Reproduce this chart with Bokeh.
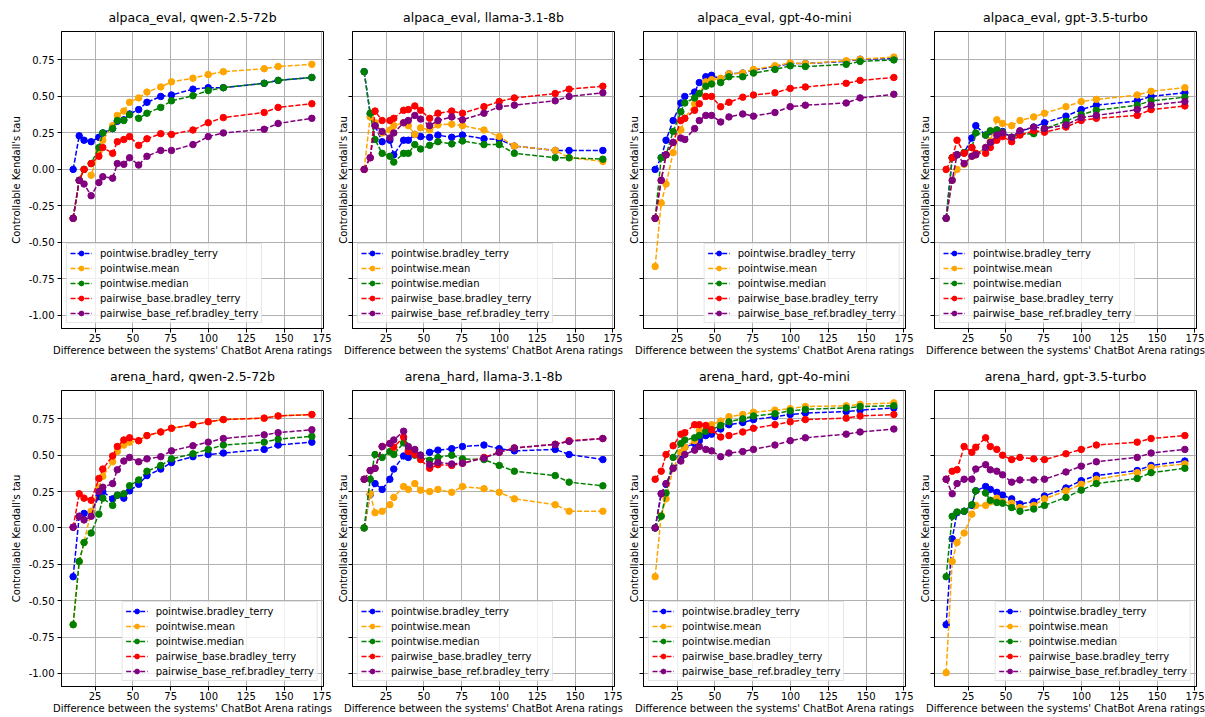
from bokeh.plotting import figure
from bokeh.layouts import column, row
from bokeh.models import Range1d, NumeralTickFormatter, CustomJSTickFormatter, FixedTicker
from bokeh.embed import file_html
from bokeh.resources import INLINE

# ---------------- data ----------------
X_DIFF = [10.5, 14.5, 17.7, 22.4, 27.5, 30.1, 36.6, 39.7, 44.0, 47.8,
          53.8, 59.3, 68.4, 75.5, 89.7, 99.8, 109.8, 136.8, 146.0, 168.3]

SERIES_NAMES = ["pointwise.bradley_terry", "pointwise.mean", "pointwise.median",
                "pairwise_base.bradley_terry", "pairwise_base_ref.bradley_terry"]
SERIES_COLORS = ["blue", "orange", "green", "red", "purple"]

X_TICKS = [0, 25, 50, 75, 100, 125, 150, 175]
Y_TICKS = [-1.0, -0.75, -0.5, -0.25, 0.0, 0.25, 0.5, 0.75]

# alpaca_eval, qwen-2.5-72b
AE_QWEN_BT = [0.0, 0.23, 0.2, 0.19, 0.22, 0.25, 0.28, 0.33, 0.34, 0.38, 0.41, 0.46, 0.5, 0.51, 0.55, 0.56, 0.56, 0.59, 0.61, 0.63]
AE_QWEN_MEAN = [-0.335, -0.075, 0.0, -0.04, 0.12, 0.2, 0.3, 0.37, 0.4, 0.46, 0.49, 0.53, 0.565, 0.6, 0.625, 0.65, 0.67, 0.69, 0.705, 0.72]
AE_QWEN_MEDIAN = [-0.335, -0.075, 0.0, 0.04, 0.15, 0.25, 0.28, 0.335, 0.335, 0.375, 0.35, 0.385, 0.425, 0.47, 0.505, 0.54, 0.56, 0.59, 0.61, 0.63]
AE_QWEN_PAIR = [-0.335, -0.075, 0.0, 0.04, 0.09, 0.15, 0.11, 0.19, 0.205, 0.225, 0.165, 0.21, 0.245, 0.24, 0.27, 0.32, 0.355, 0.39, 0.425, 0.45]
AE_QWEN_PAIRREF = [-0.335, -0.075, -0.1, -0.18, -0.09, -0.05, -0.06, 0.04, 0.035, 0.08, 0.03, 0.09, 0.13, 0.13, 0.17, 0.225, 0.25, 0.275, 0.315, 0.35]

# alpaca_eval, llama-3.1-8b
AE_LLAMA_BT = [0.67, 0.38, 0.3, 0.19, 0.2, 0.1, 0.2, 0.2, 0.24, 0.225, 0.22, 0.235, 0.22, 0.235, 0.21, 0.205, 0.16, 0.13, 0.13, 0.13]
AE_LLAMA_MEAN = [0.0, 0.36, 0.32, 0.25, 0.27, 0.3, 0.32, 0.3, 0.24, 0.285, 0.27, 0.305, 0.31, 0.3, 0.27, 0.225, 0.16, 0.13, 0.08, 0.055]
AE_LLAMA_MEDIAN = [0.67, 0.385, 0.205, 0.11, 0.09, 0.05, 0.11, 0.11, 0.17, 0.14, 0.165, 0.19, 0.175, 0.195, 0.17, 0.17, 0.11, 0.08, 0.08, 0.07]
AE_LLAMA_PAIR = [0.0, 0.08, 0.4, 0.335, 0.335, 0.35, 0.405, 0.41, 0.435, 0.405, 0.35, 0.385, 0.4, 0.385, 0.43, 0.465, 0.49, 0.52, 0.55, 0.57]
AE_LLAMA_PAIRREF = [0.0, 0.08, 0.3, 0.26, 0.215, 0.25, 0.32, 0.335, 0.37, 0.345, 0.3, 0.335, 0.36, 0.34, 0.385, 0.43, 0.44, 0.47, 0.5, 0.525]

# alpaca_eval, gpt-4o-mini
AE_4OMINI_BT = [0.0, 0.08, 0.2, 0.335, 0.455, 0.5, 0.53, 0.595, 0.635, 0.645, 0.62, 0.655, 0.66, 0.68, 0.705, 0.725, 0.725, 0.74, 0.755, 0.76]
AE_4OMINI_MEAN = [-0.665, -0.23, -0.1, 0.115, 0.27, 0.35, 0.45, 0.52, 0.6, 0.615, 0.625, 0.655, 0.66, 0.685, 0.71, 0.73, 0.725, 0.745, 0.755, 0.77]
AE_4OMINI_MEDIAN = [-0.335, 0.08, 0.1, 0.26, 0.395, 0.455, 0.49, 0.52, 0.57, 0.585, 0.595, 0.635, 0.635, 0.66, 0.685, 0.71, 0.705, 0.72, 0.74, 0.75]
AE_4OMINI_PAIR = [-0.335, -0.075, 0.1, 0.185, 0.335, 0.35, 0.405, 0.45, 0.5, 0.5, 0.43, 0.46, 0.495, 0.51, 0.525, 0.555, 0.565, 0.59, 0.61, 0.63]
AE_4OMINI_PAIRREF = [-0.335, -0.075, 0.1, 0.185, 0.215, 0.205, 0.28, 0.335, 0.37, 0.37, 0.325, 0.36, 0.38, 0.365, 0.39, 0.43, 0.44, 0.455, 0.49, 0.515]

# alpaca_eval, gpt-3.5-turbo
AE_35T_BT = [-0.335, 0.08, 0.1, 0.115, 0.215, 0.3, 0.235, 0.26, 0.27, 0.26, 0.22, 0.26, 0.29, 0.32, 0.365, 0.41, 0.44, 0.47, 0.5, 0.525]
AE_35T_MEAN = [-0.335, -0.075, 0.0, 0.035, 0.09, 0.1, 0.15, 0.195, 0.34, 0.315, 0.3, 0.335, 0.36, 0.385, 0.43, 0.465, 0.48, 0.51, 0.535, 0.56]
AE_35T_MEDIAN = [-0.335, 0.08, 0.1, 0.115, 0.15, 0.25, 0.235, 0.265, 0.27, 0.255, 0.22, 0.24, 0.245, 0.28, 0.33, 0.375, 0.405, 0.44, 0.47, 0.495]
AE_35T_PAIR = [0.0, 0.08, 0.2, 0.11, 0.15, 0.11, 0.11, 0.15, 0.2, 0.225, 0.19, 0.235, 0.265, 0.255, 0.29, 0.335, 0.35, 0.37, 0.41, 0.435]
AE_35T_PAIRREF = [-0.335, -0.075, 0.1, 0.04, 0.09, 0.1, 0.15, 0.185, 0.235, 0.25, 0.22, 0.265, 0.29, 0.28, 0.305, 0.355, 0.37, 0.41, 0.44, 0.465]

# arena_hard, qwen-2.5-72b
AH_QWEN_BT = [-0.335, 0.08, 0.1, 0.11, 0.215, 0.25, 0.2, 0.225, 0.205, 0.255, 0.3, 0.36, 0.405, 0.45, 0.49, 0.505, 0.515, 0.54, 0.57, 0.59]
AH_QWEN_MEAN = [-0.665, -0.23, -0.1, 0.115, 0.28, 0.355, 0.455, 0.525, 0.57, 0.59, 0.6, 0.635, 0.66, 0.685, 0.71, 0.73, 0.745, 0.755, 0.77, 0.78]
AH_QWEN_MEDIAN = [-0.665, -0.23, -0.1, -0.035, 0.095, 0.205, 0.155, 0.225, 0.235, 0.29, 0.33, 0.39, 0.43, 0.475, 0.51, 0.54, 0.57, 0.59, 0.61, 0.63]
AH_QWEN_PAIR = [0.005, 0.235, 0.205, 0.19, 0.34, 0.405, 0.495, 0.56, 0.605, 0.62, 0.6, 0.635, 0.66, 0.685, 0.71, 0.73, 0.745, 0.755, 0.77, 0.78]
AH_QWEN_PAIRREF = [0.005, 0.08, 0.055, 0.08, 0.25, 0.28, 0.305, 0.4, 0.46, 0.485, 0.455, 0.475, 0.49, 0.53, 0.565, 0.59, 0.615, 0.64, 0.655, 0.675]

# arena_hard, llama-3.1-8b
AH_LLAMA_BT = [0.0, 0.23, 0.305, 0.265, 0.335, 0.405, 0.495, 0.485, 0.51, 0.5, 0.52, 0.535, 0.545, 0.56, 0.57, 0.545, 0.53, 0.54, 0.505, 0.47]
AH_LLAMA_MEAN = [0.0, 0.235, 0.105, 0.115, 0.16, 0.21, 0.285, 0.265, 0.305, 0.26, 0.25, 0.265, 0.245, 0.285, 0.27, 0.245, 0.2, 0.16, 0.115, 0.115]
AH_LLAMA_MEDIAN = [0.0, 0.335, 0.505, 0.485, 0.525, 0.505, 0.585, 0.535, 0.5, 0.5, 0.465, 0.485, 0.5, 0.475, 0.47, 0.43, 0.39, 0.36, 0.315, 0.29]
AH_LLAMA_PAIR = [0.335, 0.395, 0.41, 0.56, 0.58, 0.555, 0.625, 0.525, 0.505, 0.47, 0.41, 0.435, 0.43, 0.445, 0.485, 0.52, 0.55, 0.575, 0.6, 0.615]
AH_LLAMA_PAIRREF = [0.335, 0.395, 0.41, 0.56, 0.58, 0.605, 0.665, 0.56, 0.54, 0.5, 0.435, 0.45, 0.44, 0.445, 0.48, 0.52, 0.55, 0.575, 0.595, 0.615]

# arena_hard, gpt-4o-mini
AH_4OMINI_BT = [0.0, 0.235, 0.3, 0.41, 0.485, 0.555, 0.58, 0.6, 0.635, 0.645, 0.68, 0.71, 0.725, 0.745, 0.765, 0.78, 0.79, 0.8, 0.81, 0.825]
AH_4OMINI_MEAN = [-0.335, 0.085, 0.2, 0.41, 0.52, 0.555, 0.6, 0.67, 0.67, 0.71, 0.735, 0.765, 0.78, 0.795, 0.81, 0.82, 0.835, 0.84, 0.85, 0.86]
AH_4OMINI_MEDIAN = [0.0, 0.08, 0.24, 0.485, 0.58, 0.605, 0.62, 0.635, 0.665, 0.675, 0.705, 0.73, 0.75, 0.77, 0.785, 0.805, 0.815, 0.825, 0.835, 0.84]
AH_4OMINI_PAIR = [0.335, 0.39, 0.505, 0.565, 0.645, 0.655, 0.71, 0.71, 0.705, 0.675, 0.625, 0.635, 0.66, 0.685, 0.71, 0.73, 0.745, 0.755, 0.77, 0.78]
AH_4OMINI_PAIRREF = [0.0, 0.235, 0.305, 0.41, 0.46, 0.505, 0.535, 0.56, 0.54, 0.53, 0.49, 0.515, 0.525, 0.54, 0.57, 0.6, 0.62, 0.645, 0.66, 0.68]

# arena_hard, gpt-3.5-turbo
AH_35T_BT = [-0.665, -0.075, 0.105, 0.115, 0.155, 0.255, 0.285, 0.265, 0.245, 0.225, 0.2, 0.165, 0.18, 0.22, 0.275, 0.325, 0.36, 0.395, 0.43, 0.46]
AH_35T_MEAN = [-0.995, -0.23, -0.1, -0.035, 0.095, 0.155, 0.155, 0.18, 0.205, 0.18, 0.17, 0.14, 0.155, 0.2, 0.255, 0.3, 0.335, 0.38, 0.415, 0.44]
AH_35T_MEDIAN = [-0.335, 0.08, 0.11, 0.115, 0.16, 0.255, 0.24, 0.19, 0.175, 0.17, 0.14, 0.115, 0.13, 0.155, 0.21, 0.26, 0.305, 0.34, 0.38, 0.41]
AH_35T_PAIR = [0.335, 0.39, 0.4, 0.56, 0.52, 0.555, 0.62, 0.56, 0.54, 0.5, 0.47, 0.485, 0.475, 0.47, 0.51, 0.54, 0.57, 0.59, 0.615, 0.635]
AH_35T_PAIRREF = [0.335, 0.235, 0.305, 0.335, 0.335, 0.405, 0.435, 0.4, 0.39, 0.365, 0.315, 0.33, 0.33, 0.335, 0.385, 0.425, 0.455, 0.485, 0.515, 0.54]

PANELS = [
    ("alpaca_eval, qwen-2.5-72b", [AE_QWEN_BT, AE_QWEN_MEAN, AE_QWEN_MEDIAN, AE_QWEN_PAIR, AE_QWEN_PAIRREF], "bottom_left"),
    ("alpaca_eval, llama-3.1-8b", [AE_LLAMA_BT, AE_LLAMA_MEAN, AE_LLAMA_MEDIAN, AE_LLAMA_PAIR, AE_LLAMA_PAIRREF], "bottom_left"),
    ("alpaca_eval, gpt-4o-mini", [AE_4OMINI_BT, AE_4OMINI_MEAN, AE_4OMINI_MEDIAN, AE_4OMINI_PAIR, AE_4OMINI_PAIRREF], "bottom_right"),
    ("alpaca_eval, gpt-3.5-turbo", [AE_35T_BT, AE_35T_MEAN, AE_35T_MEDIAN, AE_35T_PAIR, AE_35T_PAIRREF], "bottom_left"),
    ("arena_hard, qwen-2.5-72b", [AH_QWEN_BT, AH_QWEN_MEAN, AH_QWEN_MEDIAN, AH_QWEN_PAIR, AH_QWEN_PAIRREF], "bottom_right"),
    ("arena_hard, llama-3.1-8b", [AH_LLAMA_BT, AH_LLAMA_MEAN, AH_LLAMA_MEDIAN, AH_LLAMA_PAIR, AH_LLAMA_PAIRREF], "bottom_left"),
    ("arena_hard, gpt-4o-mini", [AH_4OMINI_BT, AH_4OMINI_MEAN, AH_4OMINI_MEDIAN, AH_4OMINI_PAIR, AH_4OMINI_PAIRREF], "bottom_left"),
    ("arena_hard, gpt-3.5-turbo", [AH_35T_BT, AH_35T_MEAN, AH_35T_MEDIAN, AH_35T_PAIR, AH_35T_PAIRREF], "bottom_right"),
]

XLABEL = "Difference between the systems' ChatBot Arena ratings"
YLABEL = "Controllable Kendall's tau"
FONT = "DejaVu Sans"

X_MIN, X_MAX = 2.8, 176.0
Y_MIN, Y_MAX = -1.09, 0.945

FRAME_W = 262


def make_panel(idx, title, series, legend_loc):
    col = idx % 4
    r = idx // 4
    left = 61 if col == 0 else 20
    right = 9
    top = 29
    bottom = 31
    frame_h = 299 if r == 0 else 298
    p = figure(width=left + FRAME_W + right, height=top + frame_h + bottom,
               x_range=Range1d(X_MIN, X_MAX), y_range=Range1d(Y_MIN, Y_MAX),
               output_backend="svg", toolbar_location=None,
               min_border_left=left, min_border_right=right,
               min_border_top=top, min_border_bottom=bottom,
               title=title)
    p.title.text_font = FONT
    p.title.text_font_size = "12.5px"
    p.title.text_font_style = "normal"
    p.title.text_line_height = 0.8
    p.title.align = "center"
    p.title.standoff = 14
    p.title.text_color = "black"

    p.outline_line_color = "black"
    p.outline_line_width = 1
    p.outline_line_alpha = 1
    p.background_fill_color = "white"
    p.border_fill_color = "white"

    for ax in (p.xaxis[0], p.yaxis[0]):
        ax.major_tick_in = 0
        ax.major_tick_out = 4
        ax.minor_tick_line_color = None
        ax.major_tick_line_color = "black"
        ax.axis_line_color = "black"
        ax.major_label_text_font = FONT
        ax.major_label_text_font_size = "10px"
        ax.major_label_text_color = "black"
        ax.axis_label_text_font = FONT
        ax.axis_label_text_font_style = "normal"
        ax.axis_label_text_color = "black"

    p.xaxis.ticker = FixedTicker(ticks=X_TICKS)
    p.yaxis.ticker = FixedTicker(ticks=Y_TICKS)

    p.xaxis.axis_label = XLABEL
    p.xaxis.axis_label_text_font_size = "10px"
    p.xaxis.major_label_standoff = 1
    p.xaxis.axis_label_standoff = 0

    p.yaxis.axis_label = YLABEL
    p.yaxis.axis_label_text_font_size = "10px"
    if col == 0:
        p.yaxis.formatter = NumeralTickFormatter(format="0.00")
        p.yaxis.major_label_standoff = 3
        p.yaxis.axis_label_standoff = 4
    else:
        p.yaxis.formatter = CustomJSTickFormatter(code="return ''")
        p.yaxis.major_label_text_font_size = "0px"
        p.yaxis.major_label_standoff = 0
        p.yaxis.axis_label_standoff = 0

    p.xgrid.ticker = FixedTicker(ticks=X_TICKS)
    p.ygrid.ticker = FixedTicker(ticks=Y_TICKS)
    for g in (p.xgrid[0], p.ygrid[0]):
        g.grid_line_color = "#b0b0b0"
        g.grid_line_width = 1
        g.grid_line_alpha = 1

    for name, color, ys in zip(SERIES_NAMES, SERIES_COLORS, series):
        p.line(X_DIFF, ys, line_color=color, line_width=1.5, line_dash="5 2",
               legend_label=name)
        p.scatter(X_DIFF, ys, size=6.5, fill_color=color, line_color=color,
                  legend_label=name)

    lg = p.legend[0]
    lg.location = legend_loc
    lg.margin = 5
    lg.padding = 3
    lg.spacing = 3
    lg.label_height = 12
    lg.glyph_height = 12
    lg.glyph_width = 22
    lg.label_standoff = 8
    lg.label_text_font = FONT
    lg.label_text_font_size = "10px"
    lg.label_text_color = "black"
    lg.background_fill_color = "white"
    lg.background_fill_alpha = 0.8
    lg.border_line_color = "#cccccc"
    lg.border_line_width = 1
    return p


figs = [make_panel(i, t, s, loc) for i, (t, s, loc) in enumerate(PANELS)]
layout = column(row(*figs[:4]), row(*figs[4:]))

open("out.html", "w").write(file_html(layout, INLINE))
